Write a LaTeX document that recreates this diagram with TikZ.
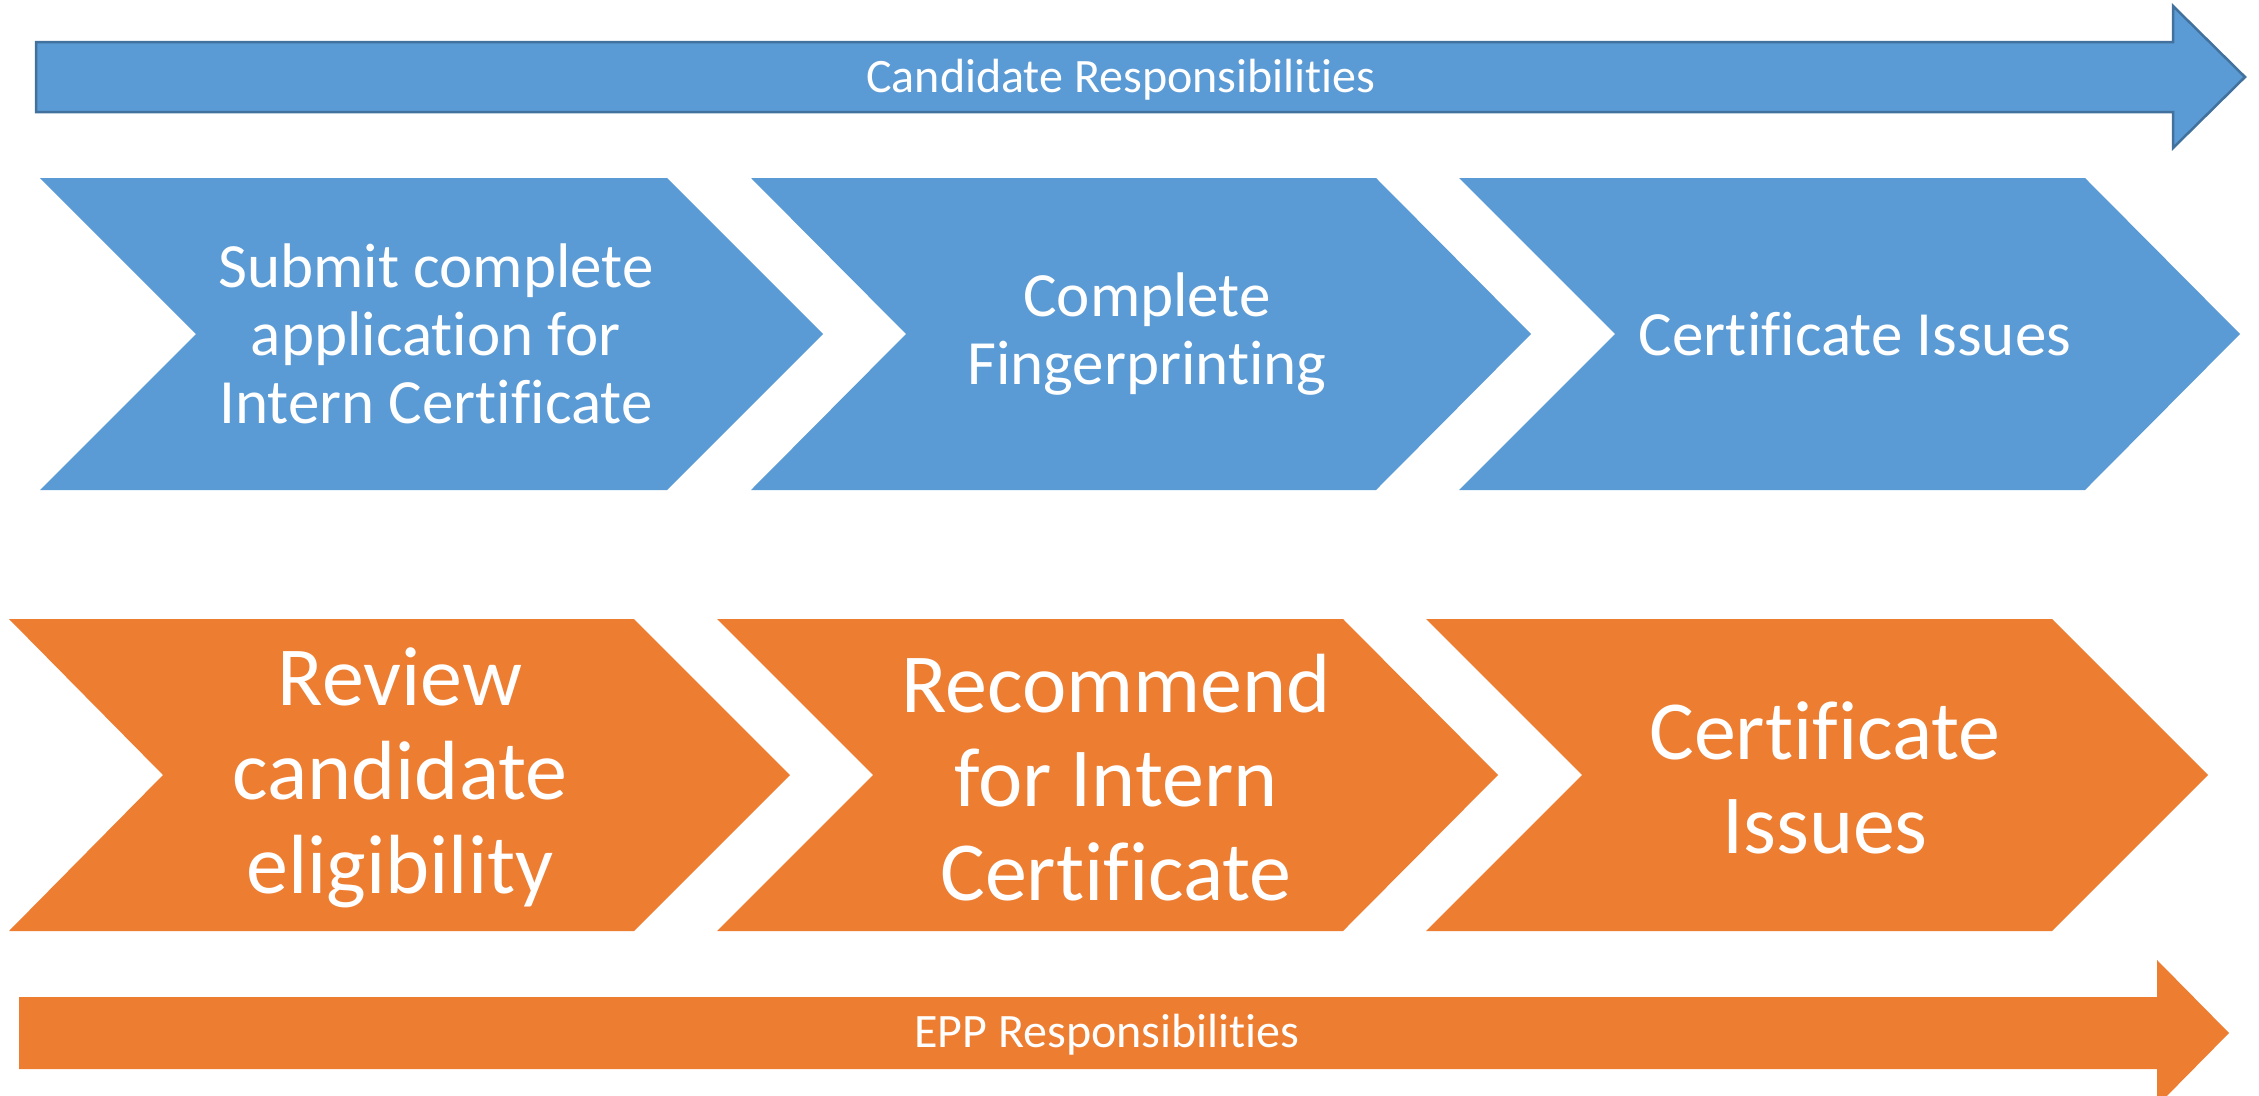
\documentclass[tikz,border=0pt]{standalone}
\usepackage{fontspec}
\setmainfont{Carlito}[Ligatures=NoCommon]
\definecolor{cblue}{HTML}{5B9BD5}
\definecolor{cblueline}{HTML}{41719C}
\definecolor{corange}{HTML}{ED7D31}
\begin{document}
\begin{tikzpicture}[x=1pt,y=-1pt,
  bluefill/.style={fill=cblue},
  orangefill/.style={fill=corange},
  toptext/.style={text=white,align=center,font=\fontsize{63}{68}\selectfont,inner sep=0pt},
  bottext/.style={text=white,align=center,font=\fontsize{84}{94}\selectfont,inner sep=0pt},
  bandtext/.style={text=white,font=\fontsize{48}{54}\selectfont,inner sep=0pt}]
\useasboundingbox (0,0) rectangle (2259,1095);
\clip (0,0) rectangle (2259,1095);
% top band arrow
\draw[bluefill,draw=cblueline,line width=2.5] (36,42) -- (2173,42) -- (2173,6) -- (2245,77) -- (2173,148) -- (2173,112) -- (36,112) -- cycle;
\node[bandtext] (cand) at (1121,80) {Candidate Responsibilities};
% top chevrons
\fill[bluefill] (40,178) -- (667,178) -- (823,334) -- (667,490) -- (40,490) -- (196,334) -- cycle;
\fill[bluefill] (751,178) -- (1376,178) -- (1531,334) -- (1376,490) -- (751,490) -- (906,334) -- cycle;
\fill[bluefill] (1459,178) -- (2085,178) -- (2240,334) -- (2085,490) -- (1459,490) -- (1615,334) -- cycle;
\node[toptext] (t1) at (436,334) {Submit complete\\application for\\Intern Certificate};
\node[toptext] (t2) at (1147,334) {Complete\\Fingerprinting};
\node[toptext] (t3) at (1855,334) {Certificate Issues};
% bottom chevrons
\fill[orangefill] (9,619) -- (634,619) -- (790,775) -- (634,931) -- (9,931) -- (163,775) -- cycle;
\fill[orangefill] (717,619) -- (1343,619) -- (1498,775) -- (1343,931) -- (717,931) -- (873,775) -- cycle;
\fill[orangefill] (1426,619) -- (2052,619) -- (2208,775) -- (2052,931) -- (1426,931) -- (1582,775) -- cycle;
\node[bottext] (b1) at (400,778) {Review\\candidate\\eligibility};
\node[bottext] (b2) at (1116,778) {Recommend\\for Intern\\Certificate};
\node[bottext] (b3) at (1825,778) {Certificate\\Issues};
% bottom band arrow
\fill[orangefill] (19,997) -- (2157,997) -- (2157,960) -- (2229,1033) -- (2157,1106) -- (2157,1069) -- (19,1069) -- cycle;
\node[bandtext] (epp) at (1107,1035) {EPP Responsibilities};
\end{tikzpicture}
\end{document}
